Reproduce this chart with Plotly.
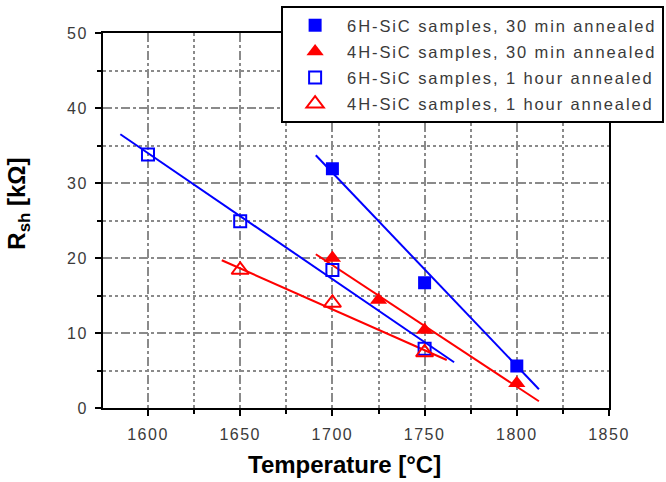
import plotly.graph_objects as go

# Data
sq30_x = [1700, 1750, 1800]
sq30_y = [31.9, 16.7, 5.6]
tr30_x = [1700, 1725, 1750, 1800]
tr30_y = [20.0, 14.4, 10.4, 3.3]
sq1h_x = [1600, 1650, 1700, 1750]
sq1h_y = [33.8, 24.9, 18.4, 7.9]
tr1h_x = [1650, 1700, 1750]
tr1h_y = [18.4, 14.0, 7.4]

# Trend lines (endpoints)
fit_sq30_x = [1691, 1812]
fit_sq30_y = [33.7, 2.5]
fit_tr30_x = [1691, 1812]
fit_tr30_y = [20.5, 0.9]
fit_sq1h_x = [1585, 1766]
fit_sq1h_y = [36.5, 6.1]
fit_tr1h_x = [1640, 1762]
fit_tr1h_y = [19.7, 6.4]

labels = ["6H-SiC samples, 30 min annealed",
          "4H-SiC samples, 30 min annealed",
          "6H-SiC samples, 1 hour annealed",
          "4H-SiC samples, 1 hour annealed"]

x_tickvals = [1600, 1650, 1700, 1750, 1800, 1850]
x_ticktext = ["1600", "1650", "1700", "1750", "1800", "1850"]
y_tickvals = [0, 10, 20, 30, 40, 50]
y_ticktext = ["0", "10", "20", "30", "40", "50"]

x_title = "Temperature [°C]"
y_title = "R<sub>sh</sub> [kΩ]"

BLUE = "#0000FF"
RED = "#FF0000"
FONT = "Liberation Sans, Arial"


def spaced(t, px):
    return f'<span style="letter-spacing:{px}px">{t}</span>'


fig = go.Figure()
for fx, fy, c in [(fit_sq30_x, fit_sq30_y, BLUE), (fit_tr30_x, fit_tr30_y, RED),
                  (fit_sq1h_x, fit_sq1h_y, BLUE), (fit_tr1h_x, fit_tr1h_y, RED)]:
    fig.add_trace(go.Scatter(x=fx, y=fy, mode="lines", line=dict(color=c, width=2),
                             showlegend=False, hoverinfo="skip"))

specs = [
    (sq30_x, sq30_y, dict(symbol="square", size=13, color=BLUE, line=dict(width=0))),
    (tr30_x, tr30_y, dict(symbol="triangle-up", size=15, color=RED, line=dict(width=0))),
    (sq1h_x, sq1h_y, dict(symbol="square-open", size=12, color=BLUE, line=dict(width=2))),
    (tr1h_x, tr1h_y, dict(symbol="triangle-up-open", size=15, color=RED, line=dict(width=2))),
]
for i, ((x, y, m), name) in enumerate(zip(specs, labels)):
    fig.add_trace(go.Scatter(x=x, y=y, mode="markers", marker=m, name=spaced(name, 1.9),
                             legendgroup=f"g{i}"))

axis_common = dict(
    showline=True, linecolor="black", linewidth=2, mirror=True,
    ticks="outside", ticklen=6, tickwidth=1.5, tickcolor="black",
    showgrid=True, gridcolor="#8a8a8a", gridwidth=1.5, griddash="dashdot",
    zeroline=False,
    tickfont=dict(family=FONT, size=16, color="#3a3a3a"),
)
minor = dict(ticks="outside", ticklen=4, tickwidth=1.5, tickcolor="black",
             showgrid=True, gridcolor="#8a8a8a", gridwidth=1.5, griddash="dot")

fig.update_xaxes(range=[1575.6, 1850], tickmode="array", tickvals=x_tickvals,
                 ticktext=[spaced(t, 1.5) for t in x_ticktext],
                 minor=dict(tickmode="linear", dtick=25, tick0=1575, **minor),
                 ticklabelstandoff=5, **axis_common)
fig.update_yaxes(range=[0, 50], tickmode="array", tickvals=y_tickvals,
                 ticktext=[spaced(t, 1.5) for t in y_ticktext],
                 minor=dict(tickmode="linear", dtick=5, tick0=0, **minor),
                 ticklabelstandoff=4, **axis_common)

fig.add_annotation(text=x_title, xref="paper", yref="paper", x=0.478, y=-0.152,
                   xanchor="center", yanchor="middle", showarrow=False,
                   font=dict(family=FONT, size=24, color="black", weight="bold"))
fig.add_annotation(text=y_title, xref="paper", yref="paper", x=-0.166, y=0.545,
                   xanchor="center", yanchor="middle", showarrow=False, textangle=-90,
                   font=dict(family=FONT, size=24, color="black", weight="bold"))

fig.update_layout(
    width=666, height=482,
    margin=dict(l=103, r=57, t=33, b=74, autoexpand=False),
    plot_bgcolor="white", paper_bgcolor="white",
    legend=dict(x=0.352, y=1.072, xanchor="left", yanchor="top",
                bgcolor="white", bordercolor="black", borderwidth=2,
                font=dict(family=FONT, size=16.5, color="#3a3a3a"),
                itemwidth=54, tracegroupgap=1.7),
)

fig.write_html("out.html")
